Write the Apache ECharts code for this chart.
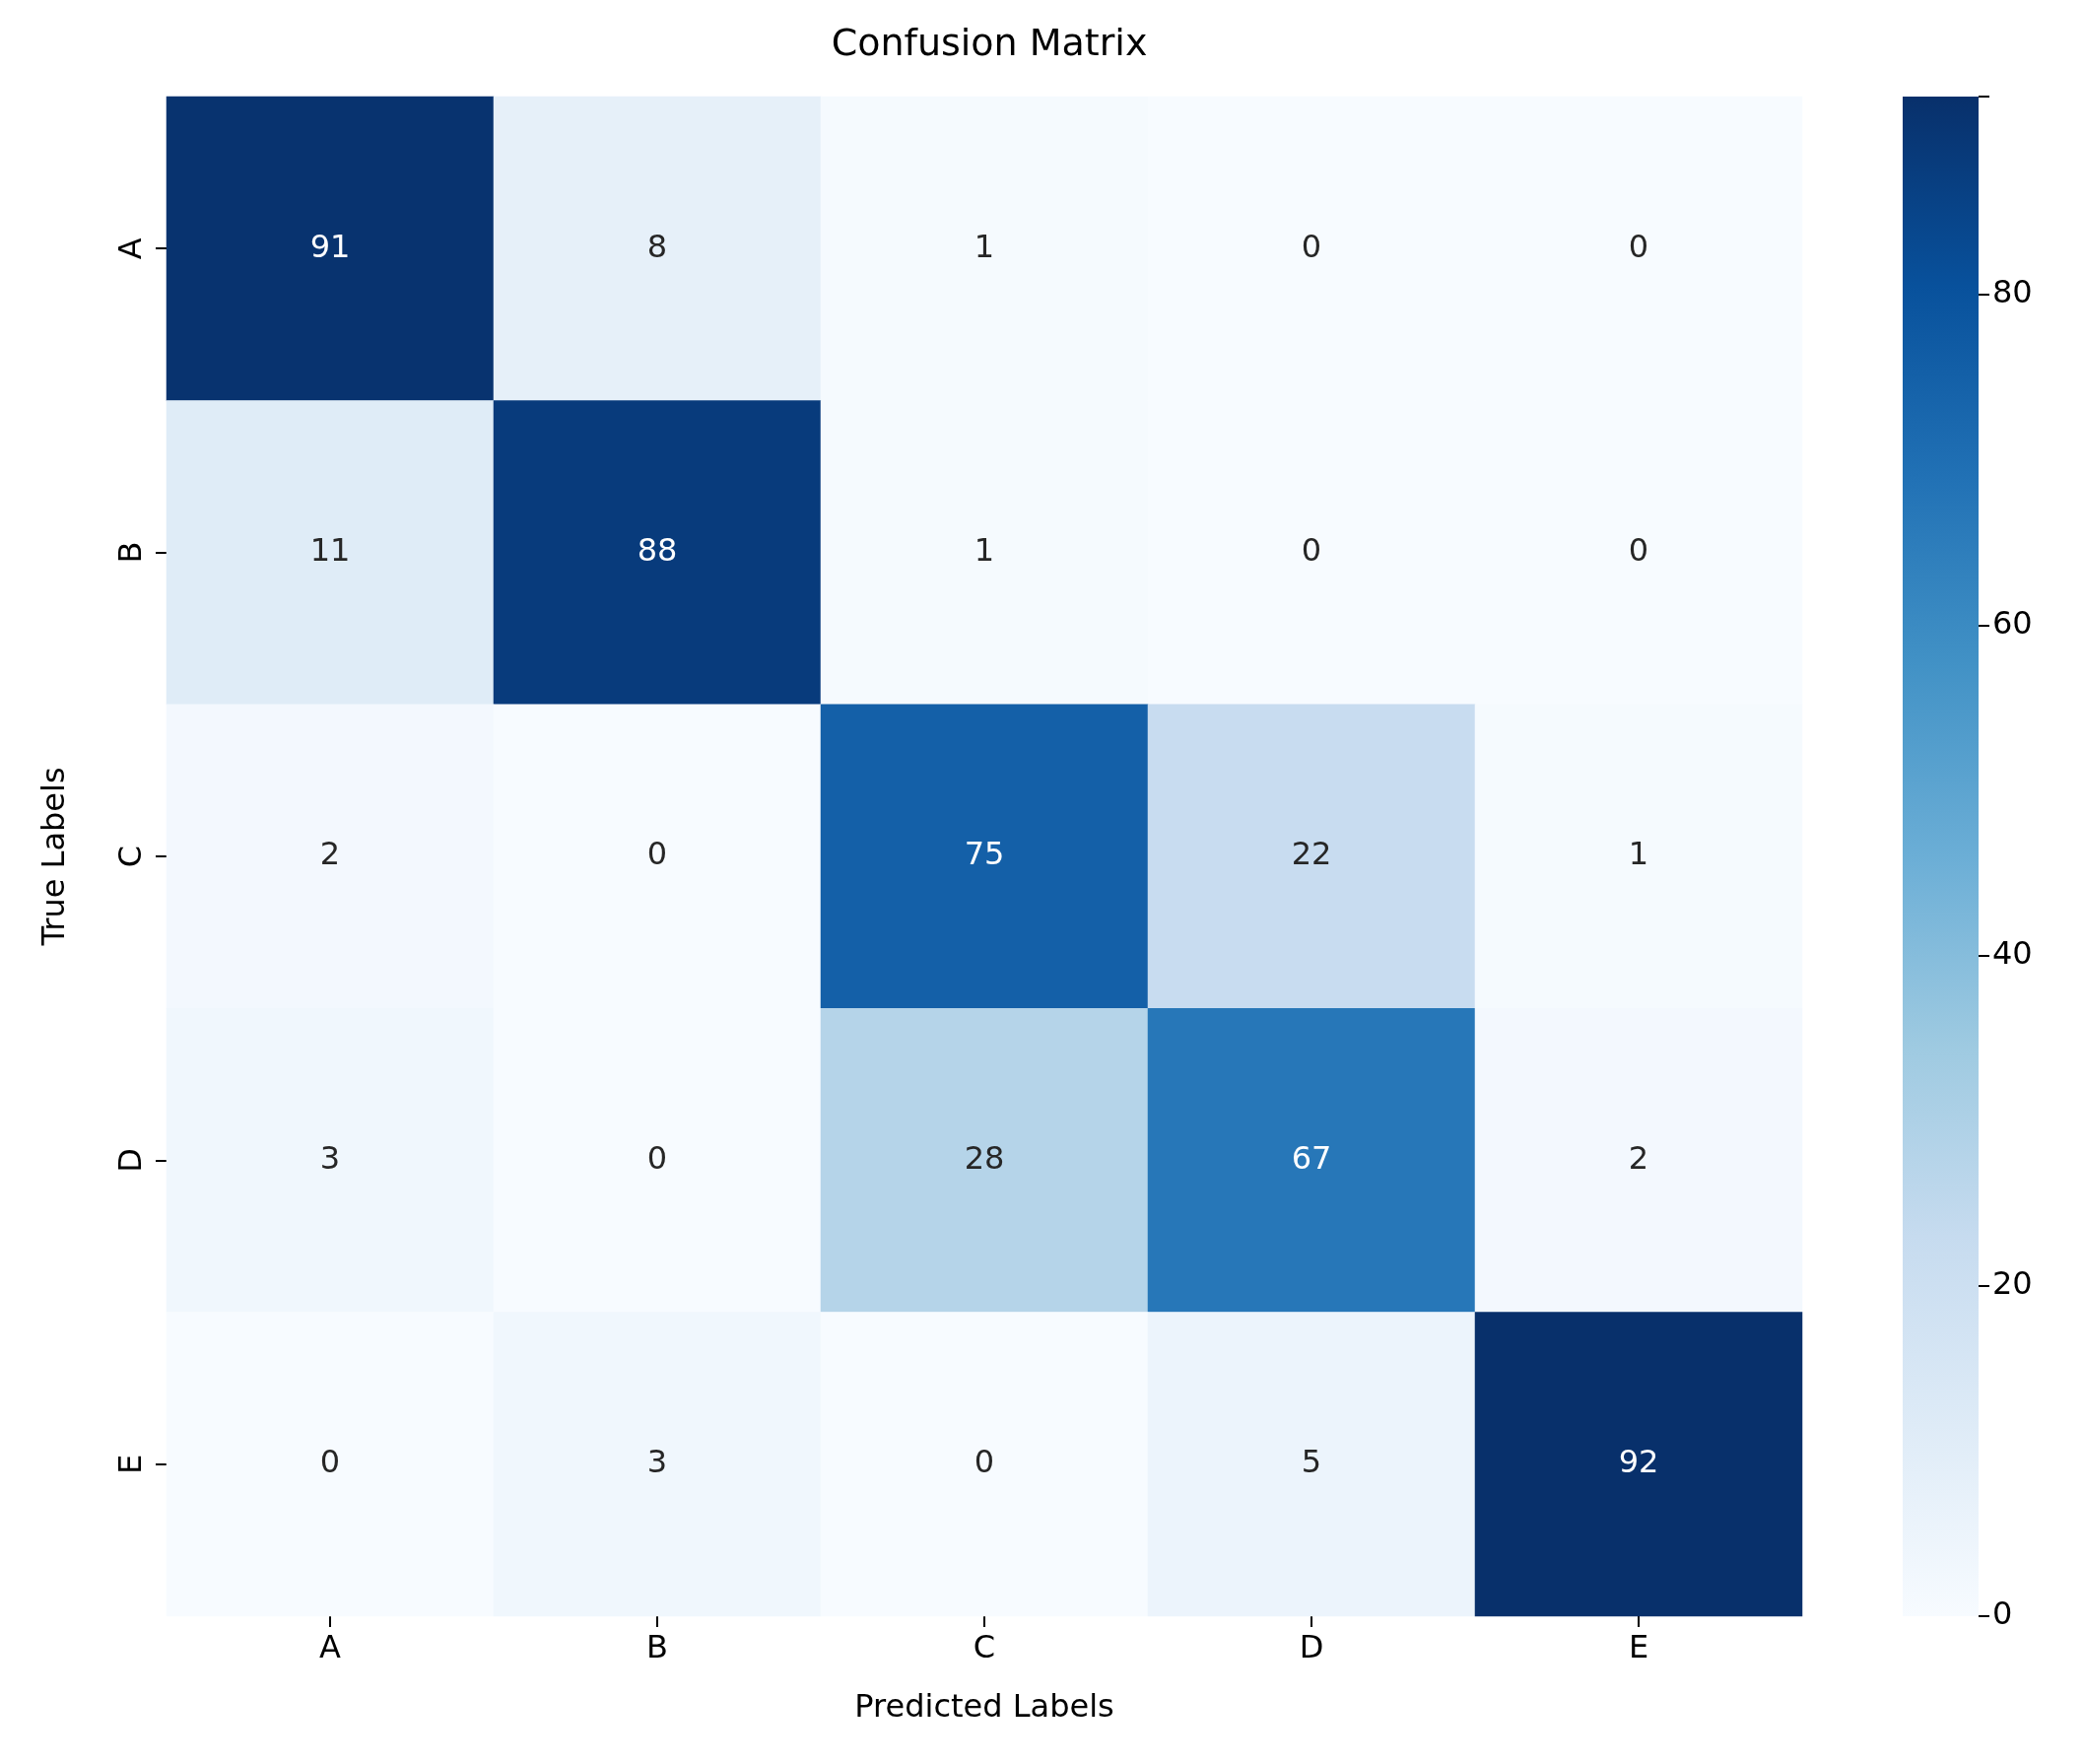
<!DOCTYPE html>
<html>
<head>
<meta charset="utf-8">
<style>
  html, body { margin: 0; padding: 0; background: #fff; }
  #chart { width: 2114px; height: 1790px; }
</style>
</head>
<body>
<div id="chart"></div>
<script src="https://cdn.jsdelivr.net/npm/echarts@6/dist/echarts.min.js"></script>
<script>
// labels and counts (rows = true, cols = predicted)
const labels = ['A', 'B', 'C', 'D', 'E'];
const matrix = [
  [91, 8, 1, 0, 0],
  [11, 88, 1, 0, 0],
  [2, 0, 75, 22, 1],
  [3, 0, 28, 67, 2],
  [0, 3, 0, 5, 92]
];
const vmin = 0, vmax = 92;
const blues = ['#f7fbff', '#deebf7', '#c6dbef', '#9ecae1', '#6baed6', '#4292c6', '#2171b5', '#08519c', '#08306b'];

let cells = [];
matrix.forEach(function (row, i) {
  row.forEach(function (v, j) { cells.push([j, i, v]); });
});

const font = 'DejaVu Sans';
let chart = echarts.init(document.getElementById('chart'));
chart.setOption({
  animation: false,
  title: {
    text: 'Confusion Matrix', left: 999, top: 22, textAlign: 'center',
    textStyle: { fontFamily: font, fontSize: 38, fontWeight: 'normal', color: '#000' }
  },
  grid: [
    { left: 169, top: 98, width: 1660, height: 1542 },
    { left: 1931, top: 98, width: 77, height: 1542 }
  ],
  xAxis: [{
    gridIndex: 0, type: 'category', data: labels,
    name: 'Predicted Labels', nameLocation: 'middle', nameGap: 78,
    nameTextStyle: { fontFamily: font, fontSize: 32, color: '#000' },
    axisLine: { show: false },
    axisTick: { show: true, alignWithLabel: true, length: 11, lineStyle: { color: '#000', width: 2 } },
    axisLabel: { fontFamily: font, fontSize: 32, color: '#000', margin: 18 },
    splitLine: { show: false }
  }, {
    gridIndex: 1, type: 'category', data: [''], show: false
  }],
  yAxis: [{
    gridIndex: 0, type: 'category', data: labels, inverse: true,
    name: 'True Labels', nameLocation: 'middle', nameGap: 96, nameRotate: 90,
    nameTextStyle: { fontFamily: font, fontSize: 32, color: '#000' },
    axisLine: { show: false },
    axisTick: { show: true, alignWithLabel: true, length: 11, lineStyle: { color: '#000', width: 2 } },
    axisLabel: { fontFamily: font, fontSize: 32, color: '#000', rotate: 90, margin: 18 },
    splitLine: { show: false }
  }, {
    gridIndex: 1, type: 'value', min: vmin, max: vmax, interval: 20, position: 'right',
    axisLine: { show: false },
    axisTick: { show: true, length: 11, lineStyle: { color: '#000', width: 2 } },
    axisLabel: { fontFamily: font, fontSize: 32, color: '#000', margin: 14,
      formatter: function (v) { return v % 20 === 0 ? v : ''; } },
    splitLine: { show: false }
  }],
  visualMap: {
    show: false, min: vmin, max: vmax, seriesIndex: 0, dimension: 2,
    inRange: { color: blues }
  },
  series: [{
    type: 'heatmap', xAxisIndex: 0, yAxisIndex: 0, data: cells,
    label: {
      show: true, fontFamily: font, fontSize: 32,
      formatter: function (p) { return p.value[2]; },
      rich: {}
    },
    labelLayout: null,
    itemStyle: { borderWidth: 0 }
  }, {
    type: 'bar', xAxisIndex: 1, yAxisIndex: 1, data: [vmax], barWidth: '100%',
    silent: true,
    itemStyle: {
      color: new echarts.graphic.LinearGradient(0, 1, 0, 0,
        blues.map(function (c, k) { return { offset: k / (blues.length - 1), color: c }; }))
    }
  }]
});
// text colour per cell: white on dark cells
chart.setOption({
  series: [{
    data: cells.map(function (c) {
      return { value: c, label: { color: c[2] > vmax / 2 ? '#ffffff' : '#262626' } };
    })
  }]
});
</script>
</body>
</html>
